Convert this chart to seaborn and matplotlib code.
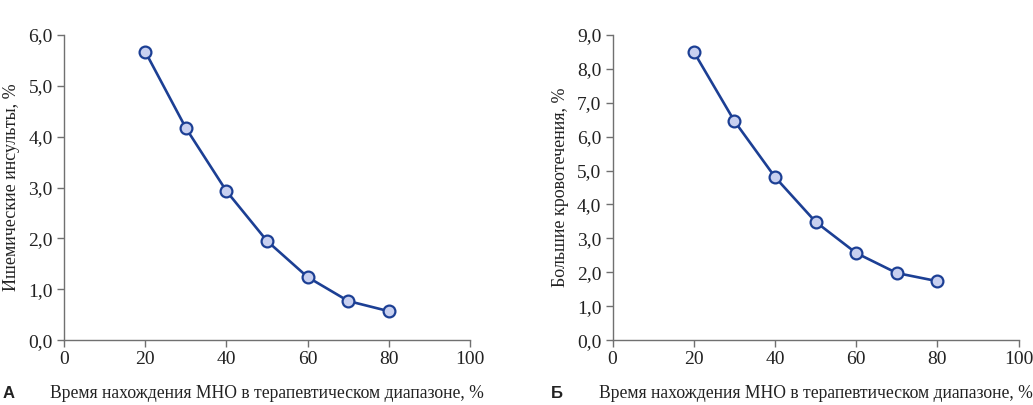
import numpy as np
import pandas as pd
import matplotlib
matplotlib.use("Agg")
import matplotlib.pyplot as plt
import seaborn as sns

# время в терапевтическом диапазоне, %
ttr = [20, 30, 40, 50, 60, 70, 80]
# панель А: ишемические инсульты, %
stroke = [5.67, 4.17, 2.93, 1.95, 1.24, 0.77, 0.57]
# панель Б: большие кровотечения, %
bleeding = [8.50, 6.46, 4.81, 3.49, 2.57, 1.98, 1.74]

x_ticks = [0, 20, 40, 60, 80, 100]
xlabel = "Время нахождения МНО в терапевтическом диапазоне, %"

line_color = "#1c3f94"
marker_fill = "#c8d0f0"
axis_color = "#707070"

sns.set_theme(style="ticks")
plt.rcParams["font.family"] = ["Liberation Serif", "DejaVu Serif"]

fig = plt.figure(figsize=(10.33, 4.05), dpi=100)
ax_a = fig.add_axes([0.062, 0.160, 0.393, 0.754])
ax_b = fig.add_axes([0.593, 0.160, 0.393, 0.754])


def draw_panel(ax, values, ymax, ylabel, letter):
    df = pd.DataFrame({"ttr": ttr, "val": values})
    sns.lineplot(data=df, x="ttr", y="val", ax=ax, color=line_color, lw=1.9,
                 marker="o", markersize=8.5, markerfacecolor=marker_fill,
                 markeredgecolor=line_color, markeredgewidth=1.6)
    ax.set_xlim(0, 100)
    ax.set_ylim(0, ymax)
    ax.set_xticks(x_ticks)
    yt = np.arange(0, ymax + 0.01, 1.0)
    ax.set_yticks(yt)
    ax.set_yticklabels([f"{v:.1f}".replace(".", ",") for v in yt])
    sns.despine(ax=ax)
    for s in ["left", "bottom"]:
        ax.spines[s].set_color(axis_color)
        ax.spines[s].set_linewidth(1.0)
    ax.tick_params(colors=axis_color, labelcolor="#222222", labelsize=14,
                   length=5, width=1.0, pad=3)
    ax.set_ylabel(ylabel, fontsize=13, color="#222222", labelpad=6)
    ax.set_xlabel("")
    ax.text(0.5, -0.175, xlabel, transform=ax.transAxes, ha="center", va="center",
            fontsize=12.7, color="#222222")
    ax.text(-0.152, -0.175, letter, transform=ax.transAxes, ha="left", va="center",
            fontsize=12, fontweight="bold", color="#222222",
            family=["Liberation Sans", "DejaVu Sans"])


draw_panel(ax_a, stroke, 6.0, "Ишемические инсульты, %", "А")
draw_panel(ax_b, bleeding, 9.0, "Большие кровотечения, %", "Б")

fig.savefig("out.png", dpi=100)
